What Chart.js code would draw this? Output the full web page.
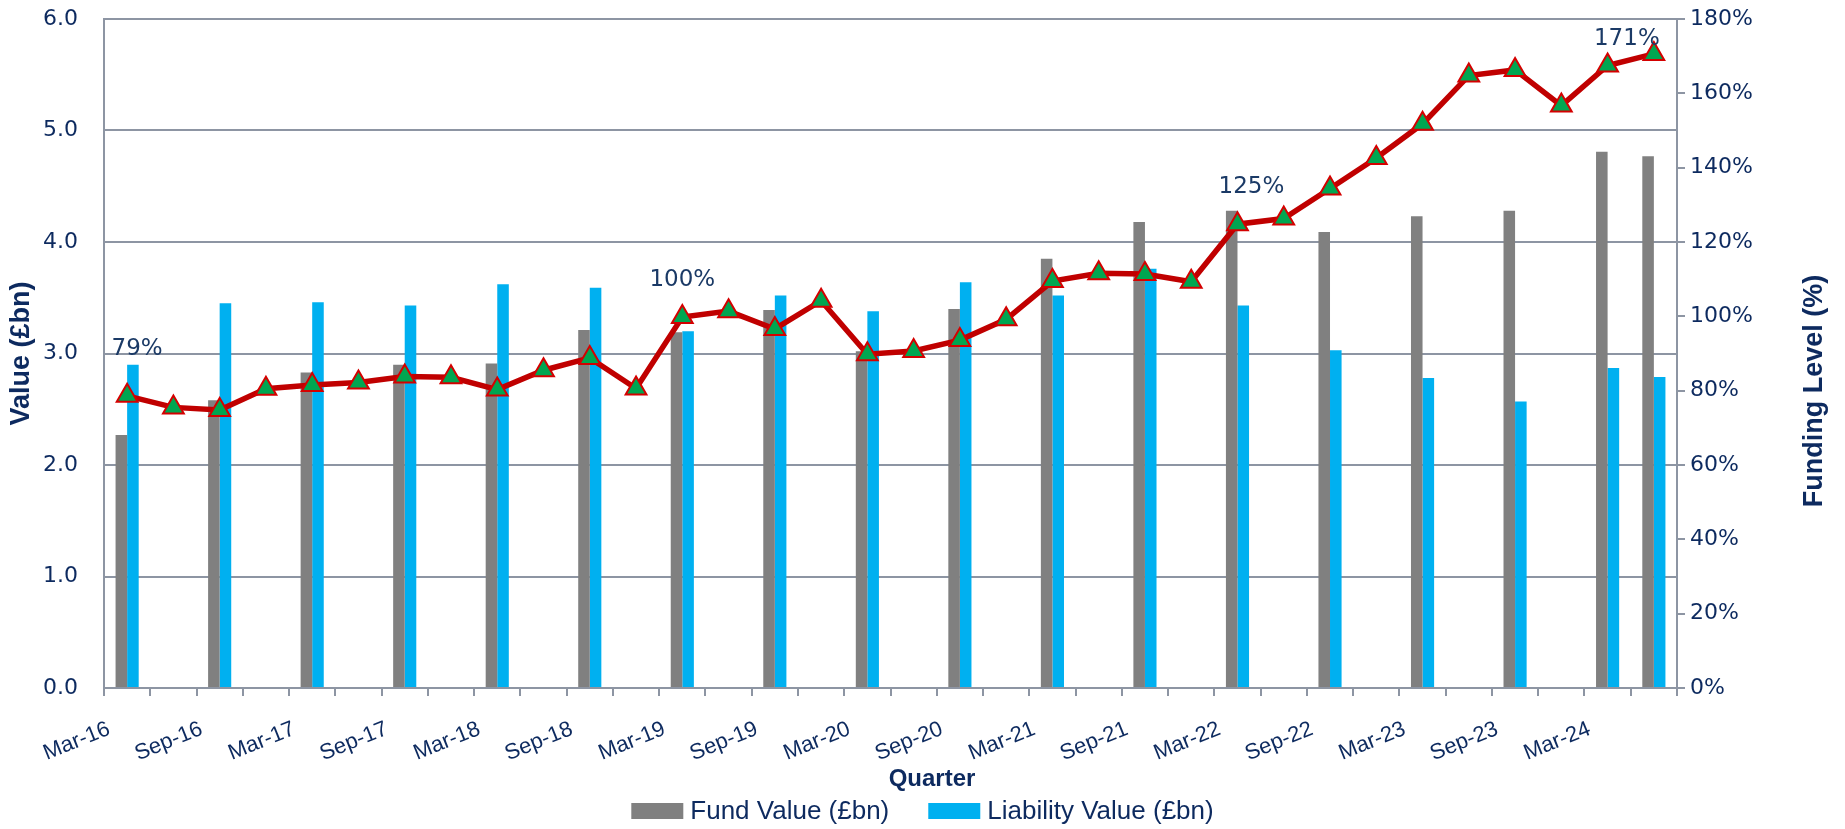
<!DOCTYPE html>
<html lang="en">
<head>
    <meta charset="UTF-8">
    <title>Fund vs Liability Value</title>
    <script src="https://cdn.jsdelivr.net/npm/chart.js"></script>
    <style>
        body { margin: 0; background: #ffffff; }
        .wrap { width: 1845px; height: 829px; }
    </style>
</head>
<body>
    <div class="wrap">
        <canvas id="fundChart" width="1845" height="829"></canvas>
    </div>
    <script>
        const quarters = [
            'Mar-16', 'Jun-16', 'Sep-16', 'Dec-16', 'Mar-17', 'Jun-17', 'Sep-17', 'Dec-17',
            'Mar-18', 'Jun-18', 'Sep-18', 'Dec-18', 'Mar-19', 'Jun-19', 'Sep-19', 'Dec-19',
            'Mar-20', 'Jun-20', 'Sep-20', 'Dec-20', 'Mar-21', 'Jun-21', 'Sep-21', 'Dec-21',
            'Mar-22', 'Jun-22', 'Sep-22', 'Dec-22', 'Mar-23', 'Jun-23', 'Sep-23', 'Dec-23',
            'Mar-24', 'Jun-24'
        ];
        // £bn, only reported every other quarter (plus the latest)
        const fundValue = [
            2.27, null, 2.58, null, 2.83, null, 2.90, null,
            2.91, null, 3.21, null, 3.19, null, 3.39, null,
            3.02, null, 3.40, null, 3.85, null, 4.18, null,
            4.28, null, 4.09, null, 4.23, null, 4.28, null,
            4.81, 4.77
        ];
        const liabilityValue = [
            2.90, null, 3.45, null, 3.46, null, 3.43, null,
            3.62, null, 3.59, null, 3.20, null, 3.52, null,
            3.38, null, 3.64, null, 3.52, null, 3.76, null,
            3.43, null, 3.03, null, 2.78, null, 2.57, null,
            2.87, 2.79
        ];
        // funding level in %
        const fundingLevel = [
            78.6, 75.5, 74.8, 80.5, 81.5, 82.2, 83.8, 83.6,
            80.3, 85.5, 88.8, 80.6, 99.8, 101.4, 96.6, 104.2,
            89.8, 90.7, 93.6, 99.2, 109.5, 111.6, 111.4, 109.3,
            124.8, 126.3, 134.4, 142.6, 151.8, 164.8, 166.3, 156.7,
            167.5, 170.6
        ];
        const labelledPoints = [0, 12, 24, 33];

        const navy = '#0d2a5f';
        const gridGrey = '#8d95a3';
        const titleFont = 'bold 27px "Liberation Sans", Arial, sans-serif';

        // point labels, right axis title (reads upwards), x title and legend
        const extrasPlugin = {
            id: 'extras',
            afterDatasetsDraw(chart) {
                const ctx = chart.ctx;
                const meta = chart.getDatasetMeta(2);
                const offsets = { 0: [10, -47], 12: [0, -37], 24: [14, -37], 33: [-27, -15] };
                ctx.save();
                ctx.font = '23px "DejaVu Sans"';
                ctx.fillStyle = '#1b3a66';
                ctx.textAlign = 'center';
                ctx.textBaseline = 'middle';
                labelledPoints.forEach((i) => {
                    const pt = meta.data[i];
                    const off = offsets[i] || [0, -35];
                    ctx.fillText(Math.round(fundingLevel[i]) + '%', pt.x + off[0], pt.y + off[1]);
                });
                ctx.restore();
            },
            afterDraw(chart) {
                const ctx = chart.ctx;
                ctx.save();
                ctx.fillStyle = navy;
                ctx.textAlign = 'center';
                ctx.textBaseline = 'middle';
                ctx.font = 'bold 24px "Liberation Sans", Arial, sans-serif';
                ctx.fillText('Quarter', 932, 779);

                // legend
                const bars = chart.data.datasets.filter((d) => d.type === 'bar');
                ctx.font = '26px "Liberation Sans", Arial, sans-serif';
                const boxW = 52, boxH = 16, gap = 7, itemGap = 39;
                const widths = bars.map((d) => boxW + gap + ctx.measureText(d.label).width);
                const total = widths.reduce((a, b) => a + b, 0) + itemGap * (bars.length - 1);
                let x = chart.width / 2 - total / 2;
                const y = 811;
                ctx.textAlign = 'left';
                bars.forEach((d, i) => {
                    ctx.fillStyle = d.backgroundColor;
                    ctx.fillRect(x, y - boxH / 2, boxW, boxH);
                    ctx.fillStyle = navy;
                    ctx.fillText(d.label, x + boxW + gap, y + 1);
                    x += widths[i] + itemGap;
                });

                ctx.font = titleFont;
                ctx.textAlign = 'center';
                ctx.translate(1815, 391);
                ctx.rotate(-Math.PI / 2);
                ctx.fillText('Funding Level (%)', 0, 0);
                ctx.restore();
            }
        };

        const ctx = document.getElementById('fundChart').getContext('2d');
        const fundChart = new Chart(ctx, {
            data: {
                labels: quarters,
                datasets: [
                    {
                        type: 'bar',
                        label: 'Fund Value (£bn)',
                        data: fundValue,
                        backgroundColor: '#808080',
                        yAxisID: 'y',
                        order: 2,
                        categoryPercentage: 0.5,
                        barPercentage: 1.0,
                    },
                    {
                        type: 'bar',
                        label: 'Liability Value (£bn)',
                        data: liabilityValue,
                        backgroundColor: '#00b0f0',
                        yAxisID: 'y',
                        order: 2,
                        categoryPercentage: 0.5,
                        barPercentage: 1.0,
                    },
                    {
                        type: 'line',
                        label: 'Funding Level (%)',
                        data: fundingLevel,
                        yAxisID: 'y1',
                        order: 0,
                        borderColor: '#c00000',
                        borderWidth: 5.5,
                        tension: 0,
                        pointStyle: 'triangle',
                        pointRadius: 12,
                        pointHoverRadius: 12,
                        pointBackgroundColor: '#00a651',
                        pointBorderColor: '#d40000',
                        pointBorderWidth: 2,
                    },
                ],
            },
            options: {
                responsive: false,
                animation: false,
                layout: {
                    autoPadding: false,
                    padding: { top: 19, left: 0, right: 0, bottom: 50 },
                },
                plugins: {
                    legend: { display: false },
                    tooltip: { enabled: false },
                },
                scales: {
                    x: {
                        afterFit: (scale) => { scale.height = 91; },
                        grid: {
                            offset: true,
                            drawOnChartArea: false,
                            drawTicks: true,
                            tickLength: 8,
                            color: gridGrey,
                            lineWidth: 2,
                        },
                        border: { display: true, color: gridGrey, width: 2 },
                        ticks: {
                            autoSkip: false,
                            maxRotation: 22,
                            minRotation: 22,
                            padding: 20,
                            labelOffset: -18,
                            color: navy,
                            font: { family: '"Liberation Sans", Arial, sans-serif', size: 22 },
                            callback: function (val, index) {
                                return index % 2 === 0 ? this.getLabelForValue(val) : '';
                            },
                        },
                    },
                    y: {
                        position: 'left',
                        min: 0,
                        max: 6,
                        afterFit: (scale) => { scale.width = 104; },
                        // invisible tick marks give the label gap without padding the chart top
                        grid: { color: gridGrey, lineWidth: 2, drawTicks: true, tickLength: 26, tickColor: 'rgba(0,0,0,0)' },
                        border: { display: true, color: gridGrey, width: 2 },
                        ticks: {
                            stepSize: 1,
                            padding: 0,
                            color: navy,
                            font: { family: '"DejaVu Sans"', size: 22 },
                            callback: (v) => v.toFixed(1),
                        },
                        title: {
                            display: true,
                            text: 'Value (£bn)',
                            color: navy,
                            padding: { top: 5, bottom: 0 },
                            font: { family: '"Liberation Sans", Arial, sans-serif', size: 27, weight: 'bold' },
                        },
                    },
                    y1: {
                        position: 'right',
                        min: 0,
                        max: 180,
                        afterFit: (scale) => { scale.width = 168; },
                        grid: {
                            drawOnChartArea: false,
                            drawTicks: true,
                            tickLength: 8,
                            color: gridGrey,
                            lineWidth: 2,
                        },
                        border: { display: true, color: gridGrey, width: 2 },
                        ticks: {
                            stepSize: 20,
                            padding: 5,
                            color: navy,
                            font: { family: '"DejaVu Sans"', size: 22 },
                            callback: (v) => v + '%',
                        },
                    },
                },
            },
            plugins: [extrasPlugin],
        });
    </script>
</body>
</html>
